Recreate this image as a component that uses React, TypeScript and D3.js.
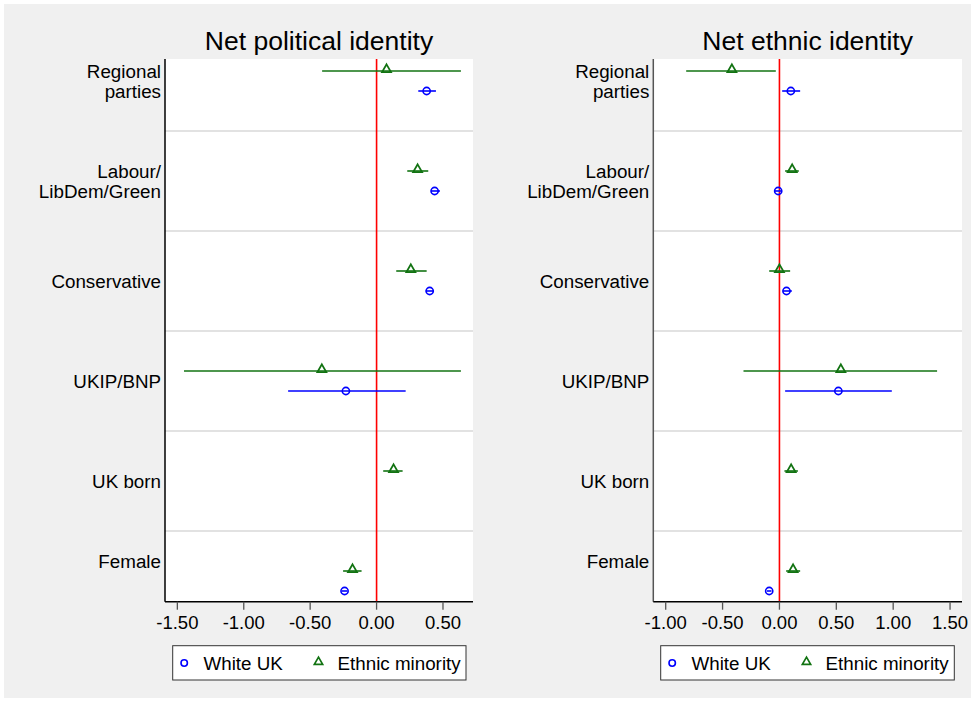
import React from "react";
import * as d3 from "d3";

const categories = ["Regional\nparties", "Labour/\nLibDem/Green", "Conservative", "UKIP/BNP", "UK born", "Female"];
const labelPos = [0, 1, 2, 3, 4, 4.8];

// Net political identity
const polWhite = [
  { est: 0.377, lo: 0.314, hi: 0.447 },
  { est: 0.437, lo: 0.41, hi: 0.477 },
  { est: 0.40, lo: 0.37, hi: 0.43 },
  { est: -0.231, lo: -0.666, hi: 0.219 },
  null,
  { est: -0.241, lo: -0.262, hi: -0.22 },
];
const polMinority = [
  { est: 0.075, lo: -0.41, hi: 0.635 },
  { est: 0.309, lo: 0.231, hi: 0.389 },
  { est: 0.258, lo: 0.148, hi: 0.377 },
  { est: -0.412, lo: -1.45, hi: 0.635 },
  { est: 0.128, lo: 0.05, hi: 0.196 },
  { est: -0.181, lo: -0.252, hi: -0.113 },
];
// Net ethnic identity
const ethWhite = [
  { est: 0.10, lo: 0.024, hi: 0.182 },
  { est: -0.011, lo: -0.04, hi: 0.02 },
  { est: 0.062, lo: 0.03, hi: 0.109 },
  { est: 0.518, lo: 0.05, hi: 0.988 },
  null,
  { est: -0.09, lo: -0.11, hi: -0.07 },
];
const ethMinority = [
  { est: -0.418, lo: -0.82, hi: -0.032 },
  { est: 0.112, lo: 0.05, hi: 0.17 },
  { est: 0.0, lo: -0.09, hi: 0.094 },
  { est: 0.54, lo: -0.316, hi: 1.386 },
  { est: 0.103, lo: 0.044, hi: 0.162 },
  { est: 0.12, lo: 0.059, hi: 0.182 },
];
const polTicks = [-1.5, -1.0, -0.5, 0.0, 0.5];
const ethTicks = [-1.0, -0.5, 0.0, 0.5, 1.0, 1.5];
const seriesNames = ["White UK", "Ethnic minority"];

const FONT = "'Liberation Sans', Arial, Helvetica, sans-serif";
const BLUE = "#0000ff";
const GREEN = "#127312";

type Pt = { est: number; lo: number; hi: number } | null;

function Panel(props: {
  title: string;
  left: number;
  right: number;
  domain: [number, number];
  ticks: number[];
  white: Pt[];
  minority: Pt[];
  axisColor: string;
  legendX: [number, number];
}) {
  const { title, left, right, domain, ticks, white, minority, axisColor, legendX } = props;
  const top = 59;
  const bottom = 601.7;
  const x = d3.scaleLinear().domain(domain).range([left, right]);
  const y = d3.scaleLinear().domain([-0.22, 5.207]).range([top, bottom]);
  const tri = d3.symbol().type(d3.symbolTriangle).size(34)();
  const triLeg = d3.symbol().type(d3.symbolTriangle).size(30)();
  const seps = d3.range(0, 5).map((i) => i + 0.5);
  return (
    <g>
      <rect x={left} y={top} width={right - left} height={bottom - top} fill="#ffffff" />
      <text x={(left + right) / 2} y={50} textAnchor="middle" fontSize={26.5} fontFamily={FONT} fill="#000">
        {title}
      </text>
      {seps.map((s) => (
        <line key={s} x1={left} x2={right} y1={y(s)} y2={y(s)} stroke="#d9d9d9" strokeWidth={1.6} />
      ))}
      <line x1={x(0)} x2={x(0)} y1={top} y2={bottom} stroke="#ff0000" strokeWidth={1.6} />
      {minority.map((d, i) =>
        d ? (
          <g key={"m" + i}>
            <line x1={x(d.lo)} x2={x(d.hi)} y1={y(i - 0.1)} y2={y(i - 0.1)} stroke={GREEN} strokeWidth={1.6} />
            <path d={tri} transform={`translate(${x(d.est)},${y(i - 0.1) - 1.5})`} fill="none" stroke={GREEN} strokeWidth={1.8} />
          </g>
        ) : null
      )}
      {white.map((d, i) =>
        d ? (
          <g key={"w" + i}>
            <line x1={x(d.lo)} x2={x(d.hi)} y1={y(i + 0.1)} y2={y(i + 0.1)} stroke={BLUE} strokeWidth={1.6} />
            <circle cx={x(d.est)} cy={y(i + 0.1)} r={3.6} fill="none" stroke={BLUE} strokeWidth={1.6} />
          </g>
        ) : null
      )}
      <line x1={left} x2={left} y1={top} y2={bottom} stroke={axisColor} strokeWidth={1.5} />
      <line x1={left} x2={right} y1={bottom} y2={bottom} stroke="#000" strokeWidth={1.5} />
      {ticks.map((t) => (
        <g key={t}>
          <line x1={x(t)} x2={x(t)} y1={bottom} y2={bottom + 8} stroke="#555" strokeWidth={1.3} />
          <text x={x(t)} y={629} textAnchor="middle" fontSize={18.5} fontFamily={FONT} fill="#000">
            {d3.format(".2f")(t).replace("−", "-")}
          </text>
        </g>
      ))}
      {categories.map((c, i) => {
        const lines = c.split("\n");
        const cy = y(labelPos[i]);
        return (
          <text key={c} textAnchor="end" fontSize={18.8} fontFamily={FONT} fill="#000">
            {lines.map((ln, j) => (
              <tspan key={j} x={left - 4} y={cy + 7 + (j - (lines.length - 1) / 2) * 20}>
                {ln}
              </tspan>
            ))}
          </text>
        );
      })}
      <rect x={legendX[0]} y={645.7} width={legendX[1] - legendX[0]} height={34.3} fill="#fff" stroke="#333" strokeWidth={1} />
      <circle cx={legendX[0] + 11.5} cy={663} r={3.2} fill="none" stroke={BLUE} strokeWidth={1.6} />
      <text x={legendX[0] + 30.8} y={670} fontSize={18.8} fontFamily={FONT} fill="#000">
        {seriesNames[0]}
      </text>
      <path d={triLeg} transform={`translate(${legendX[0] + 145.8},${662})`} fill="none" stroke={GREEN} strokeWidth={1.7} />
      <text x={legendX[0] + 164.8} y={670} fontSize={18.8} fontFamily={FONT} fill="#000">
        {seriesNames[1]}
      </text>
    </g>
  );
}

export default function App() {
  return (
    <div style={{ position: "absolute", left: 0, top: 0 }}>
      <svg width={975} height={702} viewBox="0 0 975 702" style={{ display: "block" }}>
        <rect x={0} y={0} width={975} height={702} fill="#ffffff" />
        <rect x={4} y={4} width={967} height={694} fill="#f0f0f0" />
        <Panel
          title="Net political identity"
          left={165}
          right={473}
          domain={[-1.593, 0.726]}
          ticks={polTicks}
          white={polWhite}
          minority={polMinority}
          axisColor="#000"
          legendX={[172.7, 466]}
        />
        <Panel
          title="Net ethnic identity"
          left={653.3}
          right={962}
          domain={[-1.109, 1.605]}
          ticks={ethTicks}
          white={ethWhite}
          minority={ethMinority}
          axisColor="#555"
          legendX={[660.7, 954.3]}
        />
      </svg>
    </div>
  );
}
